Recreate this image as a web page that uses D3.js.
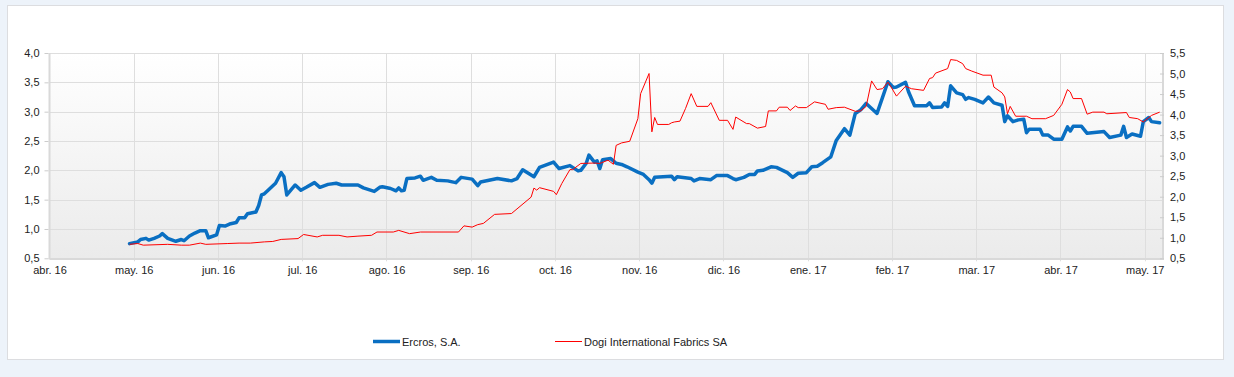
<!DOCTYPE html>
<html><head><meta charset="utf-8">
<script src="https://cdn.jsdelivr.net/npm/d3@7"></script>
<style>
html,body{margin:0;padding:0;background:#edf3fa;}
svg{display:block;font-family:"Liberation Sans",Arial,sans-serif;}
</style></head><body>
<svg id="c" width="1234" height="377"></svg>
<script>
const monthLabels = ["abr. 16","may. 16","jun. 16","jul. 16","ago. 16","sep. 16","oct. 16","nov. 16","dic. 16","ene. 17","feb. 17","mar. 17","abr. 17","may. 17"];
const leftTicks = [0.5,1.0,1.5,2.0,2.5,3.0,3.5,4.0];
const rightTicks = [0.5,1.0,1.5,2.0,2.5,3.0,3.5,4.0,4.5,5.0,5.5];
const seriesNames = ["Ercros, S.A.","Dogi International Fabrics SA"];

const ercrosDates = ["2016-04-29","2016-05-02","2016-05-03","2016-05-05","2016-05-06","2016-05-08","2016-05-10","2016-05-11","2016-05-13","2016-05-16","2016-05-18","2016-05-19","2016-05-21","2016-05-23","2016-05-25","2016-05-27","2016-05-28","2016-05-31",
"2016-06-01","2016-06-03","2016-06-05","2016-06-07","2016-06-08","2016-06-10","2016-06-11","2016-06-14","2016-06-15","2016-06-16","2016-06-17","2016-06-19","2016-06-21","2016-06-23","2016-06-24","2016-06-25","2016-06-28","2016-06-30",
"2016-07-02","2016-07-05","2016-07-07","2016-07-10","2016-07-13","2016-07-15","2016-07-21","2016-07-23","2016-07-27","2016-07-29","2016-07-30",
"2016-08-02","2016-08-04","2016-08-05","2016-08-06","2016-08-07","2016-08-08","2016-08-11","2016-08-13","2016-08-14","2016-08-17","2016-08-19","2016-08-23","2016-08-26","2016-08-28",
"2016-09-01","2016-09-03","2016-09-04","2016-09-10","2016-09-15","2016-09-17","2016-09-19","2016-09-21","2016-09-23","2016-09-25","2016-09-30",
"2016-10-02","2016-10-06","2016-10-09","2016-10-10","2016-10-12","2016-10-13","2016-10-15","2016-10-16","2016-10-17","2016-10-18","2016-10-21","2016-10-23","2016-10-25","2016-10-27","2016-10-31",
"2016-11-02","2016-11-04","2016-11-05","2016-11-06","2016-11-12","2016-11-13","2016-11-14","2016-11-19","2016-11-20","2016-11-22","2016-11-26","2016-11-28",
"2016-12-02","2016-12-04","2016-12-05","2016-12-08","2016-12-10","2016-12-12","2016-12-13","2016-12-15","2016-12-18","2016-12-20","2016-12-24","2016-12-26","2016-12-28","2016-12-31",
"2017-01-02","2017-01-04","2017-01-06","2017-01-09","2017-01-11","2017-01-14","2017-01-16","2017-01-18","2017-01-20","2017-01-22","2017-01-26","2017-01-28","2017-01-30",
"2017-02-01","2017-02-02","2017-02-05","2017-02-06","2017-02-08","2017-02-12","2017-02-13","2017-02-14","2017-02-17","2017-02-18","2017-02-19","2017-02-20","2017-02-22","2017-02-24","2017-02-25","2017-02-26","2017-02-28",
"2017-03-03","2017-03-05","2017-03-07","2017-03-10","2017-03-11","2017-03-12","2017-03-14","2017-03-16","2017-03-18","2017-03-19","2017-03-20","2017-03-24","2017-03-25","2017-03-27","2017-03-29",
"2017-04-01","2017-04-03","2017-04-04","2017-04-05","2017-04-08","2017-04-10","2017-04-16","2017-04-18","2017-04-22","2017-04-23","2017-04-24","2017-04-26","2017-04-29","2017-04-30",
"2017-05-02","2017-05-03","2017-05-06"];
const ercrosValues = [0.75,0.78,0.82,0.84,0.81,0.84,0.88,0.92,0.84,0.79,0.82,0.80,0.88,0.93,0.97,0.97,0.85,0.90,
1.06,1.05,1.09,1.11,1.19,1.19,1.26,1.29,1.40,1.58,1.60,1.69,1.78,1.96,1.89,1.58,1.75,1.66,
1.71,1.79,1.71,1.76,1.78,1.75,1.75,1.70,1.64,1.71,1.72,
1.69,1.65,1.70,1.65,1.66,1.86,1.87,1.90,1.83,1.88,1.83,1.82,1.79,1.88,
1.85,1.74,1.80,1.86,1.82,1.86,2.01,1.95,1.89,2.05,2.14,
2.03,2.08,1.99,2.00,2.12,2.26,2.14,2.16,2.03,2.18,2.20,2.12,2.10,2.06,1.97,
1.93,1.84,1.78,1.88,1.90,1.84,1.89,1.86,1.82,1.86,1.84,1.91,
1.91,1.86,1.84,1.88,1.93,1.93,1.99,2.00,2.06,2.05,1.96,1.88,1.95,1.96,
2.06,2.07,2.13,2.23,2.51,2.71,2.60,2.97,3.03,3.14,2.97,3.24,3.51,
3.41,3.42,3.50,3.34,3.10,3.10,3.15,3.07,3.08,3.15,3.09,3.44,3.32,3.29,3.21,3.24,3.21,
3.15,3.25,3.15,3.11,2.83,2.93,2.83,2.86,2.87,2.64,2.70,2.70,2.60,2.60,2.53,
2.53,2.74,2.67,2.75,2.75,2.63,2.66,2.56,2.60,2.75,2.56,2.62,2.58,2.83,
2.90,2.83,2.81];

const dogiDates = ["2016-04-29","2016-05-02","2016-05-04","2016-05-13","2016-05-18","2016-05-21","2016-05-25","2016-05-27",
"2016-06-04","2016-06-08","2016-06-12","2016-06-17","2016-06-20","2016-06-23","2016-06-29",
"2016-07-01","2016-07-06","2016-07-08","2016-07-14","2016-07-17","2016-07-21","2016-07-26","2016-07-28",
"2016-08-03","2016-08-05","2016-08-09","2016-08-13","2016-08-27","2016-08-29",
"2016-09-01","2016-09-03","2016-09-05","2016-09-09","2016-09-15","2016-09-22","2016-09-23","2016-09-24","2016-09-25","2016-09-30",
"2016-10-01","2016-10-03","2016-10-06","2016-10-07","2016-10-10","2016-10-15","2016-10-17","2016-10-20","2016-10-22","2016-10-23","2016-10-25","2016-10-28","2016-10-31",
"2016-11-01","2016-11-04","2016-11-05","2016-11-06","2016-11-07","2016-11-11","2016-11-12","2016-11-13","2016-11-15","2016-11-17","2016-11-19","2016-11-21","2016-11-25","2016-11-26","2016-11-29",
"2016-12-02","2016-12-04","2016-12-05","2016-12-09","2016-12-10","2016-12-13","2016-12-16","2016-12-17","2016-12-20","2016-12-21","2016-12-24","2016-12-25","2016-12-27","2016-12-28","2016-12-31",
"2017-01-03","2017-01-07","2017-01-08","2017-01-11","2017-01-14","2017-01-18","2017-01-20","2017-01-22","2017-01-24","2017-01-26","2017-01-28","2017-01-30","2017-01-31",
"2017-02-02","2017-02-05","2017-02-07","2017-02-11","2017-02-13","2017-02-14","2017-02-15","2017-02-19","2017-02-20","2017-02-22","2017-02-24","2017-02-25","2017-02-27",
"2017-03-03","2017-03-06","2017-03-07","2017-03-10","2017-03-11","2017-03-12","2017-03-13","2017-03-15","2017-03-19","2017-03-21","2017-03-26","2017-03-29",
"2017-04-01","2017-04-03","2017-04-04","2017-04-05","2017-04-08","2017-04-10","2017-04-12","2017-04-16","2017-04-17","2017-04-24","2017-04-25","2017-04-28","2017-04-30",
"2017-05-03","2017-05-06"];
const dogiValues = [0.84,0.86,0.82,0.84,0.82,0.82,0.87,0.84,
0.86,0.87,0.87,0.90,0.91,0.96,0.98,
1.08,1.02,1.06,1.06,1.02,1.04,1.06,1.14,
1.14,1.18,1.10,1.14,1.14,1.29,
1.26,1.32,1.35,1.57,1.59,1.99,2.21,2.16,2.22,2.13,
2.05,2.32,2.66,2.66,2.81,2.82,2.81,2.89,2.79,3.25,3.31,3.35,3.90,
4.51,5.00,3.58,3.93,3.76,3.76,3.80,3.82,3.84,4.15,4.51,4.20,4.20,4.29,3.86,
3.86,3.64,3.94,3.78,3.78,3.67,3.71,4.09,4.09,4.18,4.18,4.10,4.21,4.17,4.17,
4.31,4.25,4.13,4.17,4.18,4.08,4.09,4.20,4.82,4.61,4.63,4.79,4.69,
4.45,4.69,4.63,4.59,4.88,4.90,5.01,5.12,5.34,5.32,5.24,5.12,5.06,
4.96,4.96,4.67,4.53,4.43,4.02,4.20,3.96,3.96,3.90,3.90,3.98,
4.25,4.61,4.55,4.39,4.39,4.01,4.06,4.06,4.02,4.05,3.93,3.90,3.82,
3.98,4.06];

// month-band position: each month gets equal width
function monthPos(s){
  const [y,m,d] = s.split("-").map(Number);
  const dim = new Date(y, m, 0).getDate();
  return (y-2016)*12 + (m-4) + (d-0.5)/dim;
}

const svg = d3.select("#c");
const L = 49.5, R = 1163, T = 53, B = 258.3;
const x = d3.scaleLinear().domain([0, 13.217]).range([L, R]);
const yL = d3.scaleLinear().domain([0.5, 4]).range([B, T]);
const yR = d3.scaleLinear().domain([0.5, 5.5]).range([B, T]);

// card
svg.append("rect").attr("x",7.5).attr("y",5.5).attr("width",1216).attr("height",354)
  .attr("fill","#fff").attr("stroke","#dcdde0");

const defs = svg.append("defs");
const g = defs.append("linearGradient").attr("id","bg").attr("x1",0).attr("y1",0).attr("x2",0).attr("y2",1);
g.append("stop").attr("offset","0%").attr("stop-color","#ffffff");
g.append("stop").attr("offset","100%").attr("stop-color","#ebebeb");
svg.append("rect").attr("x",L).attr("y",T).attr("width",R-L).attr("height",B-T).attr("fill","url(#bg)");

// horizontal grid
svg.append("g").selectAll("line").data(leftTicks).join("line")
  .attr("x1",L).attr("x2",R).attr("y1",d=>Math.round(yL(d))+0.5).attr("y2",d=>Math.round(yL(d))+0.5)
  .attr("stroke","#dedede").attr("stroke-width",1);
// vertical grid
svg.append("g").selectAll("line").data(d3.range(1, monthLabels.length)).join("line")
  .attr("x1",d=>Math.round(x(d))+0.5).attr("x2",d=>Math.round(x(d))+0.5).attr("y1",T).attr("y2",B+3)
  .attr("stroke","#dedede").attr("stroke-width",1);

// frame
svg.append("line").attr("x1",L).attr("x2",L).attr("y1",T).attr("y2",B+1).attr("stroke","#d9d9d9").attr("stroke-width",2);
svg.append("line").attr("x1",L).attr("x2",R+1).attr("y1",B+0.7).attr("y2",B+0.7).attr("stroke","#d9d9d9").attr("stroke-width",2);
svg.append("line").attr("x1",R).attr("x2",R).attr("y1",T).attr("y2",B+1).attr("stroke","#d9d9d9").attr("stroke-width",2);

// left axis
const axL = d3.axisLeft(yL).tickValues(leftTicks).tickSize(4).tickPadding(5)
  .tickFormat(d=>d3.format(".1f")(d).replace(".",","));
const gL = svg.append("g").attr("transform",`translate(${L-1},0)`).call(axL);
gL.select(".domain").remove();
gL.selectAll(".tick line").attr("stroke","#cccccc");
gL.selectAll("text").attr("font-size",11).attr("fill","#222").attr("font-family","Liberation Sans, Arial, sans-serif");

// right axis
const axR = d3.axisRight(yR).tickValues(rightTicks).tickSize(4).tickPadding(6)
  .tickFormat(d=>d3.format(".1f")(d).replace(".",","));
const gR = svg.append("g").attr("transform",`translate(${R-3},0)`).call(axR);
gR.select(".domain").remove();
gR.selectAll(".tick line").attr("stroke","#cccccc");
gR.selectAll("text").attr("font-size",11).attr("fill","#222").attr("font-family","Liberation Sans, Arial, sans-serif");

// x axis labels
const axX = d3.axisBottom(x).tickValues(d3.range(monthLabels.length)).tickSize(0).tickPadding(8)
  .tickFormat(i=>monthLabels[i]);
const gX = svg.append("g").attr("transform",`translate(0,${B})`).call(axX);
gX.select(".domain").remove();
gX.selectAll("text").attr("font-size",11).attr("fill","#222").attr("font-family","Liberation Sans, Arial, sans-serif");

// lines
const ercros = ercrosDates.map((d,i)=>({p:monthPos(d), v:ercrosValues[i]}));
const dogi = dogiDates.map((d,i)=>({p:monthPos(d), v:dogiValues[i]}));
svg.append("path").datum(ercros)
  .attr("d", d3.line().x(d=>x(d.p)).y(d=>yL(d.v)))
  .attr("fill","none").attr("stroke","#0a6fc2").attr("stroke-width",3.5).attr("stroke-linejoin","round").attr("stroke-linecap","round");
svg.append("path").datum(dogi)
  .attr("d", d3.line().x(d=>x(d.p)).y(d=>yR(d.v)))
  .attr("fill","none").attr("stroke","#ff0000").attr("stroke-width",1).attr("stroke-linejoin","round");

// legend
const lg = svg.append("g");
lg.append("line").attr("x1",373).attr("x2",400).attr("y1",341.5).attr("y2",341.5).attr("stroke","#0a6fc2").attr("stroke-width",3.5);
lg.append("text").attr("x",402).attr("y",345.5).attr("font-size",11).attr("fill","#222").text(seriesNames[0]);
lg.append("line").attr("x1",555).attr("x2",582).attr("y1",341.5).attr("y2",341.5).attr("stroke","#ff0000").attr("stroke-width",1);
lg.append("text").attr("x",584).attr("y",345.5).attr("font-size",11).attr("fill","#222").text(seriesNames[1]);
</script>
</body></html>
